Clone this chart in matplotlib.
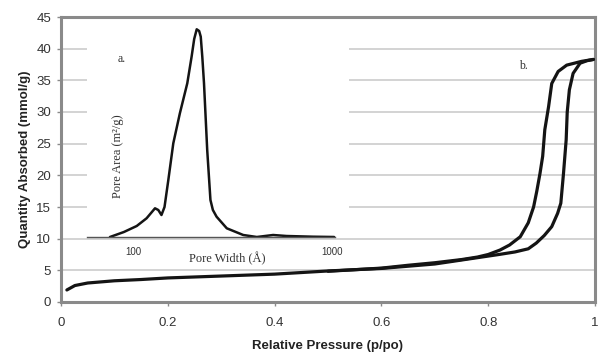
import matplotlib
matplotlib.use("Agg")
import matplotlib.pyplot as plt
import numpy as np

# Main isotherm data (relative pressure, quantity adsorbed mmol/g)
ads_p = [0.011, 0.026, 0.05, 0.1, 0.15, 0.2, 0.3, 0.4, 0.5, 0.6, 0.7, 0.78, 0.82, 0.85,
         0.875, 0.89, 0.905, 0.919, 0.93, 0.936, 0.941, 0.946, 0.948, 0.952, 0.959,
         0.972, 0.985, 0.997]
ads_q = [1.9, 2.6, 3.0, 3.35, 3.55, 3.8, 4.1, 4.4, 4.9, 5.3, 6.0, 7.0, 7.5, 7.9,
         8.4, 9.3, 10.5, 11.9, 14.0, 15.6, 20.3, 25.6, 30.0, 33.5, 36.1,
         37.7, 38.1, 38.3]
des_p = [0.997, 0.975, 0.947, 0.931, 0.919, 0.913, 0.906, 0.902, 0.897, 0.891, 0.885,
         0.875, 0.86, 0.84, 0.822, 0.8, 0.78, 0.75, 0.7, 0.65, 0.6, 0.5]
des_q = [38.3, 38.0, 37.4, 36.4, 34.5, 30.8, 27.2, 23.0, 20.3, 17.5, 15.0,
         12.5, 10.3, 9.0, 8.2, 7.5, 7.1, 6.7, 6.2, 5.8, 5.35, 4.85]

# Inset pore size distribution (pore width in Angstrom, pore area arbitrary units)
pw = [76.6, 90, 104.4, 117, 129, 134, 139, 144, 150.5, 159.4, 172, 187.4, 197, 203,
      209, 215, 219, 223, 227.4, 236, 245, 252, 263, 296, 358, 419, 506, 591, 801, 1025]
pa = [0, 5, 11, 18.7, 28.7, 27, 22, 30, 57, 93.7, 123.7, 153.7, 180.3, 198,
      207.7, 206, 200.3, 180, 153.7, 87, 37, 27, 20.3, 8.7, 2, 0, 2, 1, 0.3, 0]

x_ticks = [0, 0.2, 0.4, 0.6, 0.8, 1]
x_ticklabels = ["0", "0.2", "0.4", "0.6", "0.8", "1"]
y_ticks = [0, 5, 10, 15, 20, 25, 30, 35, 40, 45]
inset_ticks = [100, 1000]

W, H = 600, 354
fig = plt.figure(figsize=(W / 100, H / 100), dpi=100)
plt.rcParams['font.family'] = ['Liberation Sans', 'DejaVu Sans']

def frac(x0, y0, x1, y1):
    return [x0 / W, 1 - y1 / H, (x1 - x0) / W, (y1 - y0) / H]

ax = fig.add_axes(frac(61, 17, 595, 302))
ax.set_xlim(0, 1)
ax.set_ylim(0, 45)
for yv in y_ticks[1:-1]:
    ax.axhline(yv, color="#cccccc", lw=1.2, zorder=0)
ax.plot(ads_p, ads_q, color="#141414", lw=2.3, solid_capstyle="round",
        solid_joinstyle="round", zorder=3)
ax.plot(des_p, des_q, color="#141414", lw=2.3, solid_capstyle="round",
        solid_joinstyle="round", zorder=3)
for s in ax.spines.values():
    s.set_color("#8a8a8a")
    s.set_linewidth(2.2)
ax.set_xticks(x_ticks)
ax.set_xticklabels(x_ticklabels)
ax.set_yticks(y_ticks)
ax.tick_params(axis="both", direction="out", length=3, width=1, color="#8a8a8a",
               labelsize=9.5, labelcolor="#333333")
ax.tick_params(axis="x", pad=8)
ax.tick_params(axis="y", pad=4)
ax.set_xlabel("Relative Pressure (p/po)", fontsize=9.5, fontweight="bold",
              color="#222222", labelpad=8)
ax.set_ylabel("Quantity Absorbed (mmol/g)", fontsize=9.5, fontweight="bold",
              color="#222222", labelpad=4)
ax.text(0.865, 37.3, "b.", fontsize=8.5, family=["Liberation Serif"], color="#333333",
        ha="center", va="center")

# Inset
axi = fig.add_axes(frac(87, 19.5, 349, 237))
axi.set_zorder(2)
axi.set_facecolor("white")
axi.set_xscale("log")
xl = 100 * 10 ** ((87 - 133) / 199)
xr = 100 * 10 ** ((349 - 133) / 199)
axi.set_xlim(xl, xr)
axi.set_ylim(0, 217.5)
axi.plot(pw, pa, color="#141414", lw=1.8, solid_joinstyle="round",
         solid_capstyle="round")
for k in ["top", "right", "left"]:
    axi.spines[k].set_visible(False)
axi.spines["bottom"].set_color("#555555")
axi.spines["bottom"].set_linewidth(1.0)
axi.spines["bottom"].set_bounds(xl, 1035)
axi.set_yticks([])
axi.set_xticks(inset_ticks)
axi.set_xticklabels(["100", "1000"])
axi.xaxis.set_minor_locator(matplotlib.ticker.NullLocator())
axi.tick_params(axis="x", length=0, pad=7, labelsize=7, labelcolor="#333333")
axi.text(0.134, 0.818, "a.", transform=axi.transAxes, fontsize=8.5,
         family=["Liberation Serif"], color="#333333", ha="center", va="center")
axi.text(0.12, 0.373, "Pore Area (m²/g)", transform=axi.transAxes,
         rotation=90, ha="center", va="center", fontsize=9,
         family=["Liberation Serif"], color="#333333")
axi.text(0.534, -0.1, "Pore Width (Å)", transform=axi.transAxes, ha="center",
         va="center", fontsize=9, family=["Liberation Serif"], color="#333333")

fig.savefig("out.png", dpi=100)
